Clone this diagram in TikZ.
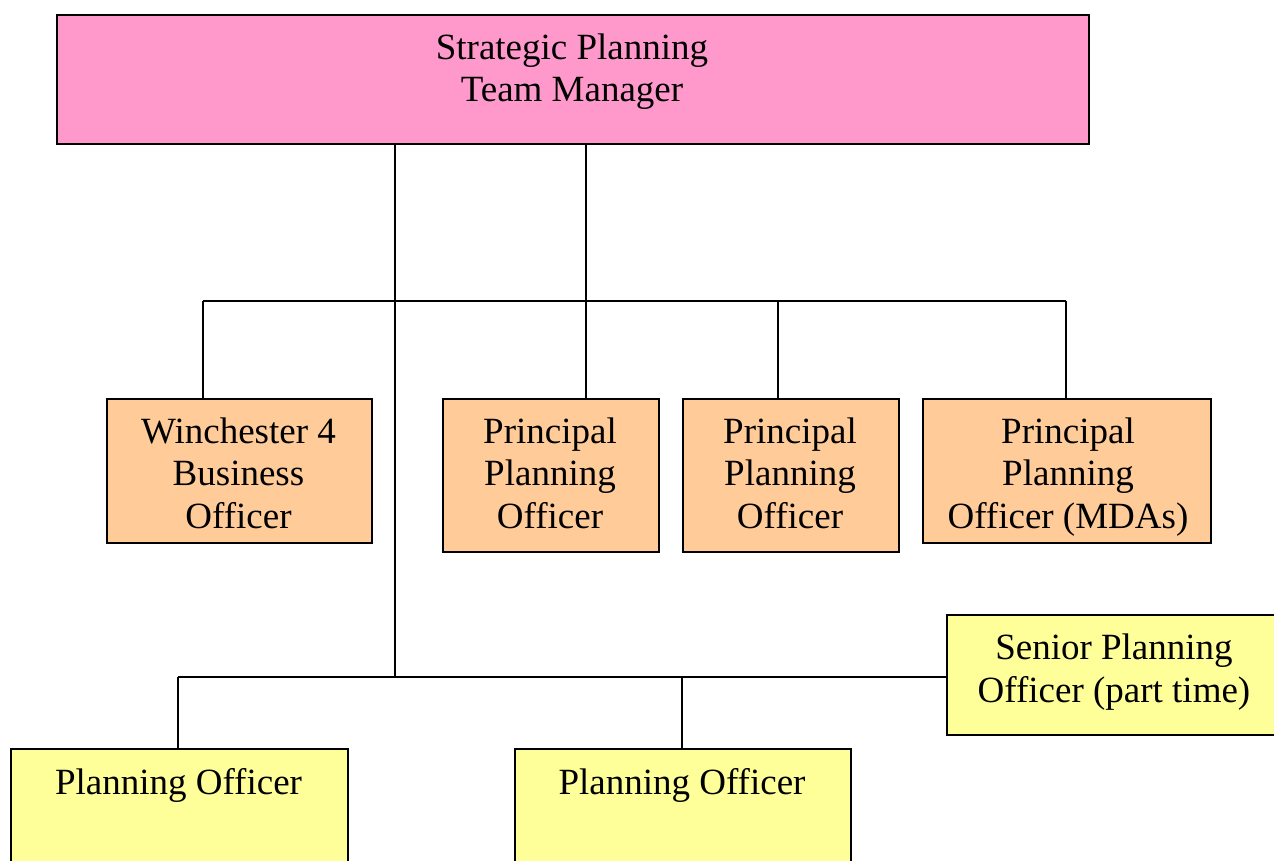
\documentclass[tikz,border=0pt]{standalone}
\usepackage{fontspec}
\setmainfont{Liberation Serif}
\definecolor{pinkfill}{HTML}{FF99CC}
\definecolor{orangefill}{HTML}{FFCC99}
\definecolor{yellowfill}{HTML}{FFFF99}
\begin{document}
\begin{tikzpicture}[x=1pt,y=-1pt,
  box/.style={draw=black, line width=2pt, anchor=north west, inner sep=0pt},
  txt/.style={anchor=base, align=center, inner sep=0pt, font=\fontsize{37}{42.5}\selectfont},
  conn/.style={draw=black, line width=1.5pt}]
\useasboundingbox (0,0) rectangle (1274,861);
\clip (0,0) rectangle (1274,861);
\fill[white] (0,0) rectangle (1274,861);
% boxes
\node[box, fill=pinkfill, minimum width=1032pt, minimum height=129pt] (top) at (56,14) {};
\node[box, fill=orangefill, minimum width=265pt, minimum height=144pt] (win) at (106,398) {};
\node[box, fill=orangefill, minimum width=216pt, minimum height=153pt] (pp1) at (442,398) {};
\node[box, fill=orangefill, minimum width=216pt, minimum height=153pt] (pp2) at (682,398) {};
\node[box, fill=orangefill, minimum width=288pt, minimum height=144pt] (mda) at (922,398) {};
\node[box, fill=yellowfill, minimum width=336pt, minimum height=120pt] (spo) at (946,614) {};
\node[box, fill=yellowfill, minimum width=337pt, minimum height=140pt] (po1) at (10,748) {};
\node[box, fill=yellowfill, minimum width=336pt, minimum height=140pt] (po2) at (514,748) {};
% texts (anchor base = baseline of last line)
\node[txt] (toptext) at (572,102) {Strategic Planning\\Team Manager};
\node[txt] (wintext) at (238.5,528) {Winchester 4\\Business\\Officer};
\node[txt] (pp1text) at (550,528) {Principal\\Planning\\Officer};
\node[txt] (pp2text) at (790,528) {Principal\\Planning\\Officer};
\node[txt] (mdatext) at (1068,528) {Principal\\Planning\\Officer (MDAs)};
\node[txt] (spotext) at (1114,702) {Senior Planning\\Officer (part time)};
\node[txt] (po1text) at (178.5,794) {Planning Officer};
\node[txt] (po2text) at (682,794) {Planning Officer};
% junction coordinates
\coordinate (ja) at (395,677);
\coordinate (jb) at (586,301);
\coordinate (hl) at (203,301);
\coordinate (hr) at (1066,301);
\coordinate (h3) at (778,301);
\coordinate (ll) at (178,677);
\coordinate (lm) at (682,677);
% connectors
\draw[conn] (top.south -| ja) -- (ja);
\draw[conn] (top.south -| jb) -- (pp1.north -| jb);
\draw[conn] (hl) -- (hr);
\draw[conn] (hl) -- (win.north -| hl);
\draw[conn] (h3) -- (pp2.north -| h3);
\draw[conn] (hr) -- (mda.north -| hr);
\draw[conn] (ll) -- (spo.west |- ll);
\draw[conn] (ll) -- (po1.north -| ll);
\draw[conn] (lm) -- (po2.north -| lm);
\end{tikzpicture}
\end{document}
